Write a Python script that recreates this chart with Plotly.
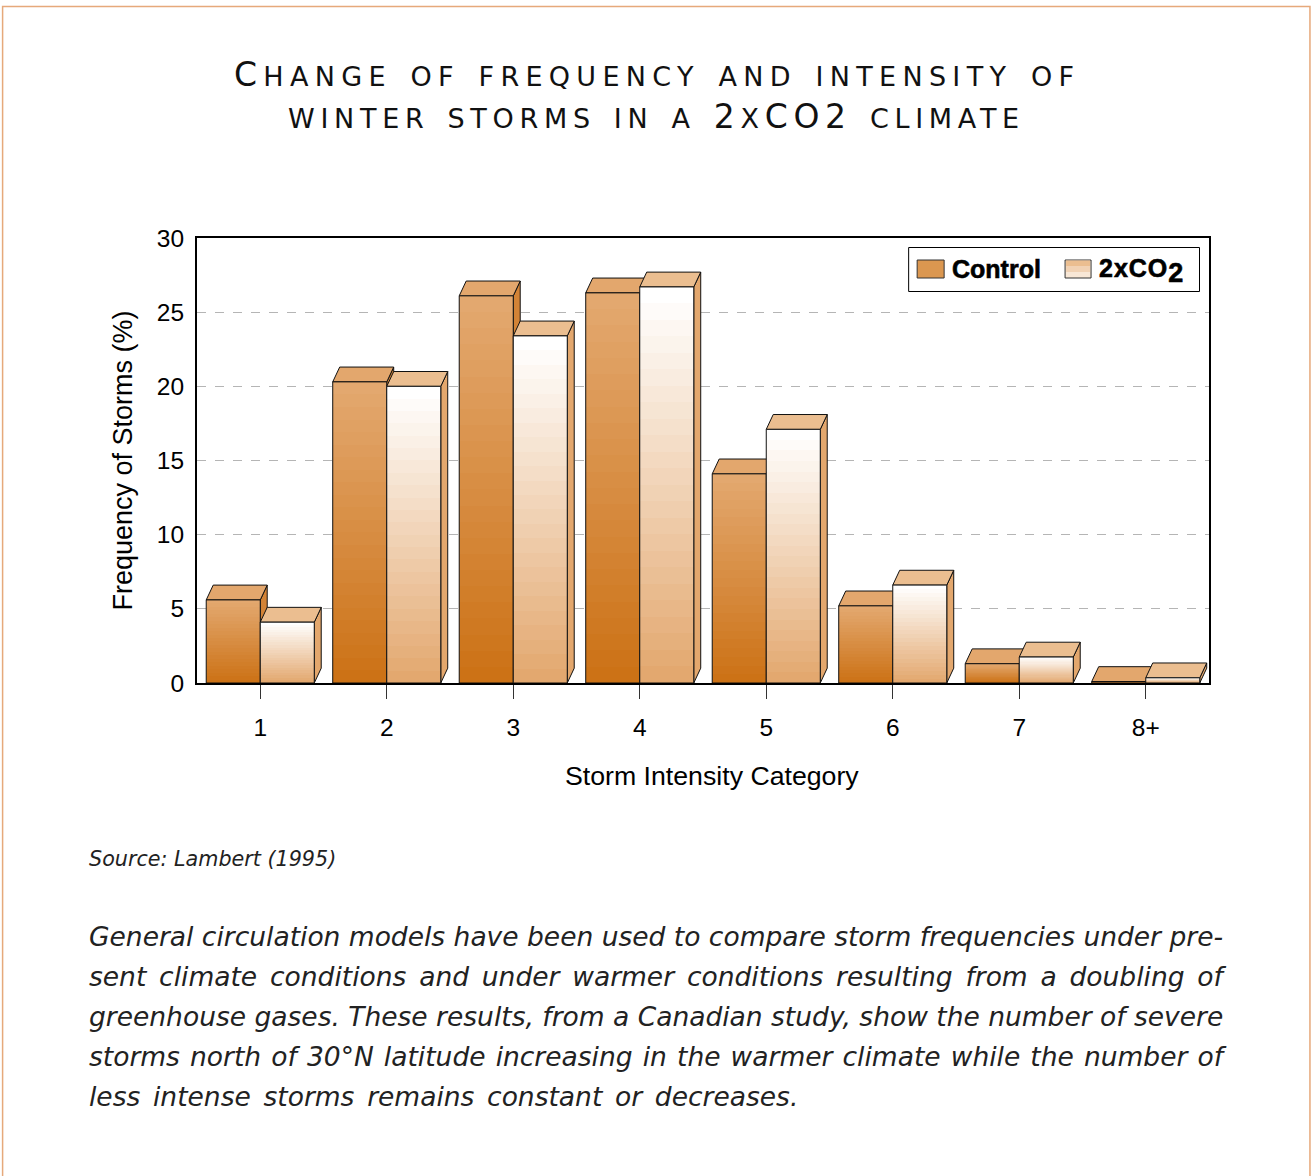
import re
import plotly.graph_objects as go

categories = ["1", "2", "3", "4", "5", "6", "7", "8+"]
control = [5.6, 20.3, 26.1, 26.3, 14.1, 5.2, 1.3, 0.1]
doubled = [4.1, 20.0, 23.4, 26.7, 17.1, 6.6, 1.75, 0.35]
series_names = ["Control", "2xCO<sub><span style=\"font-size:27px\">2</span></sub>"]
y_ticks = [0, 5, 10, 15, 20, 25, 30]

title_lines = ["Change of frequency and intensity of", "winter storms in a 2xCO2 climate"]
x_title = "Storm Intensity Category"
y_title = "Frequency of Storms (%)"
source_text = "Source: Lambert (1995)"
body_lines = [
    "General circulation models have been used to compare storm frequencies under pre-",
    "sent climate conditions and under warmer conditions resulting from a doubling of",
    "greenhouse gases. These results, from a Canadian study, show the number of severe",
    "storms north of 30°N latitude increasing in the warmer climate while the number of",
    "less intense storms remains constant or decreases.",
]
body_word_spacing = [0.0, 4.4, 0.0, 1.7, 4.3]

W, H = 1312, 1176
L, R, T, B = 196.5, 1209, 238, 683
BAR_W = 0.427
DX, DY = 0.055, 1.0
BANDS = 24


def px(x):
    return (x - L) / (R - L)


def py(y):
    return (B - y) / (B - T)


def mix(a, b, t):
    return tuple(round(a[i] + (b[i] - a[i]) * t) for i in range(3))


def stepped(bottom, top):
    scale = []
    for i in range(BANDS):
        c = "rgb(%d,%d,%d)" % mix(bottom, top, i / (BANDS - 1))
        scale.append([i / BANDS, c])
        scale.append([(i + 1) / BANDS, c])
    return scale


styles = [
    dict(bottom=(204, 114, 22), top=(227, 168, 111), roof="#E3A76D", side="#D38336"),
    dict(bottom=(227, 168, 111), top=(255, 255, 255), roof="#EBBE90", side="#E3A76D"),
]

fig = go.Figure()


def poly(xs, ys, **kw):
    fig.add_trace(go.Scatter(x=xs, y=ys, mode="lines", fill="toself", hoverinfo="skip",
                             showlegend=False, line=dict(color="#111111", width=1), **kw))


for i in range(len(categories)):
    for s, values in enumerate([control, doubled]):
        v = values[i]
        x0 = i + 0.5 - BAR_W + s * BAR_W
        x1 = x0 + BAR_W
        st = styles[s]
        poly([x1, x1 + DX, x1 + DX, x1, x1], [0, DY, v + DY, v, 0], fillcolor=st["side"])
        poly([x0, x1, x1 + DX, x0 + DX, x0], [v, v, v + DY, v + DY, v], fillcolor=st["roof"])
        poly([x0, x1, x1, x0, x0], [0, 0, v, v, 0],
             fillgradient=dict(type="vertical", colorscale=stepped(st["bottom"], st["top"])))

ann = []
TXT = "Liberation Sans"


def sc(line, spacing):
    parts = re.split(r"([A-Z0-9]+)", line)
    out = []
    for p in parts:
        if not p:
            continue
        if re.fullmatch(r"[A-Z0-9]+", p):
            out.append('<span style="font-size:33px;letter-spacing:%.1fpx">%s</span>' % (spacing, p))
        else:
            out.append('<span style="font-variant:small-caps;letter-spacing:%.1fpx">%s</span>' % (spacing, p))
    return "".join(out)


ann.append(dict(x=px(657), y=py(72), text=sc(title_lines[0], 6.3), font=dict(family="DejaVu Sans", size=39, color="#111")))
ann.append(dict(x=px(656), y=py(114), text=sc(title_lines[1], 5.7), font=dict(family="DejaVu Sans", size=39, color="#111")))
ann.append(dict(x=px(712), y=py(776), text=x_title, font=dict(family=TXT, size=26.7, color="#000")))
ann.append(dict(x=px(87), y=py(859), xanchor="left", text="<i>%s</i>" % source_text,
                font=dict(family="DejaVu Sans", size=20.7, color="#222")))
for k, line in enumerate(body_lines):
    ann.append(dict(x=px(87), y=py(936 + 40 * k), xanchor="left",
                    text='<span style="word-spacing:%.1fpx"><i>%s</i></span>' % (body_word_spacing[k], line),
                    font=dict(family="DejaVu Sans", size=26.5, color="#222")))

BOLD = '<span style="stroke:#000;stroke-width:0.6px"><b>%s</b></span>'
ann.append(dict(x=px(951), y=py(269), xanchor="left", text=BOLD % series_names[0],
                font=dict(family=TXT, size=25, color="#000")))
ann.append(dict(x=px(1098), y=py(271), xanchor="left",
                text='<span style="letter-spacing:1px">%s</span>' % (BOLD % series_names[1]),
                font=dict(family=TXT, size=25, color="#000")))
for a in ann:
    a.update(xref="paper", yref="paper", showarrow=False, borderpad=0, yanchor="middle")
    a.setdefault("xanchor", "center")

shapes = []


def rect(x0, y0, x1, y1, fill=None, line=None, lw=1):
    shapes.append(dict(type="rect", xref="paper", yref="paper", x0=px(x0), x1=px(x1), y0=py(y0), y1=py(y1),
                       fillcolor=fill or "rgba(0,0,0,0)",
                       line=dict(color=line or "rgba(0,0,0,0)", width=lw if line else 0), layer="above"))


rect(2, 6.5, 1310, 1190, line="#E6A97B", lw=1.5)
rect(908.5, 247.5, 1199.5, 291.5, fill="#FFFFFF", line="#000000", lw=1)
rect(917, 260, 944, 278, fill="#DB9750", line="#333333", lw=1)
rect(1065, 260, 1091, 278, fill="#F8E7D6", line="#333333", lw=1)
rect(1066, 260.5, 1090, 266, fill="#EBBE90")
rect(1066, 266, 1090, 272, fill="#F1D2B4")

fig.update_layout(
    width=W, height=H, autosize=False,
    margin=dict(l=L, r=W - R, t=T, b=H - B, pad=0),
    paper_bgcolor="#FFFFFF", plot_bgcolor="#FFFFFF",
    showlegend=False, annotations=ann, shapes=shapes,
    font=dict(family=TXT, color="#000"),
    xaxis=dict(range=[0, 8], tickmode="array", tickvals=[i + 0.5 for i in range(8)], ticktext=categories,
               ticks="outside", ticklen=14, tickcolor="#333", tickwidth=1, showgrid=False, zeroline=False,
               showline=True, linecolor="#000", linewidth=2, mirror=True, tickfont=dict(size=24.5), ticklabelstandoff=8),
    yaxis=dict(range=[0, 30], tickmode="array", tickvals=y_ticks, ticks="", showgrid=True, griddash="dash",
               gridcolor="#B5B5B5", gridwidth=1, zeroline=False, showline=True, linecolor="#000", linewidth=2,
               mirror=True, tickfont=dict(size=24.5), ticklabelstandoff=6,
               title=dict(text=y_title, font=dict(size=27), standoff=16)),
)

fig.write_html("out.html", config=dict(displayModeBar=False),
               post_script="document.body.style.margin='0';document.body.style.overflow='hidden';")
